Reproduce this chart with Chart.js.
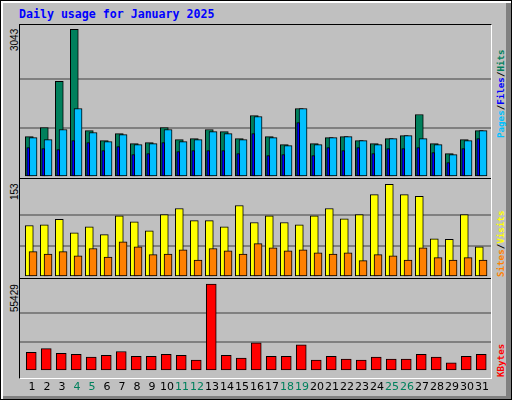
<!DOCTYPE html>
<html lang="en">
<head>
    <meta charset="UTF-8">
    <title>Daily usage for January 2025</title>
    <style>
        body {
            margin: 0;
            width: 512px;
            height: 400px;
            overflow: hidden;
            font-family: "DejaVu Sans", sans-serif;
        }

        .frame {
            position: absolute;
            left: 0; top: 0;
            width: 510px; height: 398px;
            background: #c0c0c0;
            border: 1px solid #000;
            box-shadow: inset 2px 2px 0 #fff, inset -5px -3px 0 #808080;
        }

        .title {
            position: absolute;
            left: 19px; top: 7px;
            font: bold 11.6px "DejaVu Sans Mono", monospace;
            color: #0000ff;
        }

        .plots {
            position: absolute;
            left: 19px; top: 24px;
            width: 471px; height: 353px;
            border: 1px solid;
            border-color: #000 #fff #fff #000;
        }

        .sep {
            position: absolute;
            left: 20px;
            width: 471px;
            height: 1px;
            background: #000;
        }

        canvas { position: absolute; }

        .vlabel {
            position: absolute;
            transform: rotate(-90deg);
            transform-origin: left top;
            white-space: nowrap;
            font: 10px "Liberation Sans", sans-serif;
            line-height: 10px;
        }

        .mono { font: bold 9.2px "DejaVu Sans Mono", monospace; line-height: 10px; }
    </style>
</head>
<body>
    <div class="frame"></div>
    <div class="title">Daily usage for January 2025</div>
    <div class="plots"></div>
    <div class="sep" style="top:178px"></div>
    <div class="sep" style="top:278px"></div>

    <canvas id="top" style="left:20px;top:25px" width="471" height="152"></canvas>
    <canvas id="mid" style="left:20px;top:179px" width="471" height="98"></canvas>
    <canvas id="bot" style="left:20px;top:280px" width="471" height="116"></canvas>

    <div class="vlabel" style="left:10px;top:51px">3043</div>
    <div class="vlabel" style="left:10px;top:200px">153</div>
    <div class="vlabel" style="left:10px;top:312px">55429</div>

    <div class="vlabel mono" style="left:496px;top:138px"><span style="color:#00c0ff">Pages</span>/<span style="color:#0000ff">Files</span>/<span style="color:#00805c">Hits</span></div>
    <div class="vlabel mono" style="left:496px;top:277px"><span style="color:#ff8000">Sites</span>/<span style="color:#ffff00">Visits</span></div>
    <div class="vlabel mono" style="left:496px;top:377px"><span style="color:#ff0000">KBytes</span></div>

    <script src="https://cdn.jsdelivr.net/npm/chart.js"></script>
    <script>
        const days = Array.from({ length: 31 }, (_, i) => i + 1);
        const weekends = [4, 5, 11, 12, 18, 19, 25, 26];

        const hits = [833, 1019, 1969, 3043, 957, 750, 895, 689, 709, 1019, 771, 792, 978, 936, 792, 1267,
                      833, 668, 1411, 689, 812, 833, 750, 689, 792, 854, 1287, 689, 482, 771, 957];
        const files = [812, 771, 978, 1411, 916, 730, 874, 668, 689, 978, 730, 771, 936, 895, 771, 1246,
                       812, 647, 1411, 668, 812, 833, 750, 668, 792, 854, 792, 668, 461, 750, 957];
        const pages = [606, 585, 565, 750, 709, 544, 627, 461, 482, 709, 523, 544, 544, 544, 482, 895,
                       441, 461, 1122, 441, 606, 544, 606, 482, 585, 585, 606, 503, 296, 585, 792];
        const visits = [85, 86, 95, 73, 83, 70, 101, 91, 76, 103, 113, 93, 93, 83, 118, 90,
                        101, 90, 86, 101, 113, 96, 103, 136, 153, 136, 133, 63, 62, 103, 50];
        const sites = [42, 38, 42, 35, 47, 33, 58, 50, 37, 38, 45, 28, 47, 43, 38, 55,
                       48, 43, 45, 40, 38, 40, 27, 37, 35, 28, 48, 32, 28, 32, 28];
        const kbytes = [11733, 14161, 11126, 10520, 8699, 9913, 12340, 9306, 9306, 10520, 9913, 6878, 55429, 9913, 8092, 17802,
                        9306, 9306, 16589, 6878, 9306, 7485, 6878, 8699, 7485, 7485, 10520, 8699, 5058, 9306, 10520];

        const maxHits = 3043, maxVisits = 153, maxKB = 55429;

        function series(values, shift) {
            return values.map((v, i) => ({ x: days[i] + shift, y: v }));
        }

        function bars(label, values, shift, color, width, order) {
            return {
                label,
                data: series(values, shift),
                backgroundColor: color,
                borderColor: '#000',
                borderWidth: 1,
                borderSkipped: false,
                barThickness: width,
                grouped: false,
                order
            };
        }

        function makeChart(id, datasets, axisMax, labelMax, showDays) {
            return new Chart(document.getElementById(id), {
                type: 'bar',
                data: { datasets },
                options: {
                    responsive: false,
                    animation: false,
                    events: [],
                    layout: { padding: 0 },
                    plugins: { legend: { display: false }, tooltip: { enabled: false } },
                    scales: {
                        x: {
                            type: 'linear',
                            offset: false,
                            min: 0.5,
                            max: 31.9,
                            display: showDays,
                            grid: { display: false },
                            border: { display: false },
                            afterBuildTicks: axis => {
                                axis.ticks = days.map(d => ({ value: d + 0.3 }));
                            },
                            ticks: {
                                autoSkip: false,
                                maxRotation: 0,
                                padding: 2,
                                font: { family: 'DejaVu Sans', size: 11 },
                                callback: v => Math.round(v - 0.3),
                                color: ctx => weekends.includes(Math.round(ctx.tick.value - 0.3)) ? '#00805c' : '#000'
                            }
                        },
                        y: {
                            min: 0,
                            max: axisMax,
                            afterBuildTicks: axis => {
                                axis.ticks = [0, labelMax / 3, 2 * labelMax / 3].map(v => ({ value: v }));
                            },
                            ticks: { display: false },
                            border: { display: false },
                            grid: {
                                color: ctx => ctx.index === 0 ? 'rgba(0,0,0,0)' : '#808080',
                                lineWidth: 2,
                                drawTicks: false
                            }
                        }
                    }
                }
            });
        }

        makeChart('top', [
            bars('Pages', pages, 0.05, '#0000ff', 3, 1),
            bars('Files', files, 0.37, '#00c0ff', 8, 2),
            bars('Hits', hits, 0.12, '#00805c', 8, 3)
        ], maxHits * 152 / 147.7, maxHits, false);

        makeChart('mid', [
            bars('Sites', sites, 0.37, '#ff8000', 8, 1),
            bars('Visits', visits, 0.12, '#ffff00', 8, 2)
        ], maxVisits * 98 / 92.7, maxVisits, false);

        makeChart('bot', [
            bars('KBytes', kbytes, 0.25, '#ff0000', 10, 1)
        ], maxKB * 96 / 91.7, maxKB, true);
    </script>
</body>
</html>
